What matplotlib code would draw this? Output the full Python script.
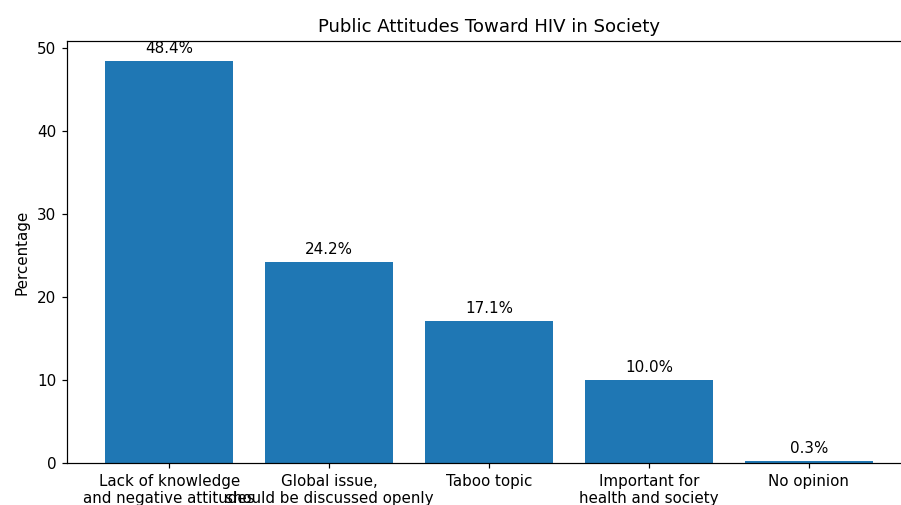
import matplotlib
matplotlib.use('Agg')
from matplotlib import pyplot as plt

# Survey results
categories = ['Lack of knowledge\nand negative attitudes',
              'Global issue,\nshould be discussed openly',
              'Taboo topic',
              'Important for\nhealth and society',
              'No opinion']
percentages = [48.4, 24.2, 17.1, 10.0, 0.3]

DPI = 109
fig, ax = plt.subplots(figsize=(901 / DPI, 505 / DPI), dpi=DPI)
# axes run slightly past the right edge, as in the reference crop
fig.subplots_adjust(left=67 / 901, right=911 / 901, top=1 - 41 / 505, bottom=1 - 463 / 505)

bars = ax.bar(categories, percentages, color='#1f77b4')

# value labels on top of each bar
for b, p in zip(bars, percentages):
    ax.text(b.get_x() + b.get_width() / 2, b.get_height() + 0.6, f'{p:.1f}%',
            ha='center', va='bottom', fontsize=10)

ax.set_title('Public Attitudes Toward HIV in Society')
ax.set_ylabel('Percentage', labelpad=5)

plt.savefig('out.png', dpi=DPI)
